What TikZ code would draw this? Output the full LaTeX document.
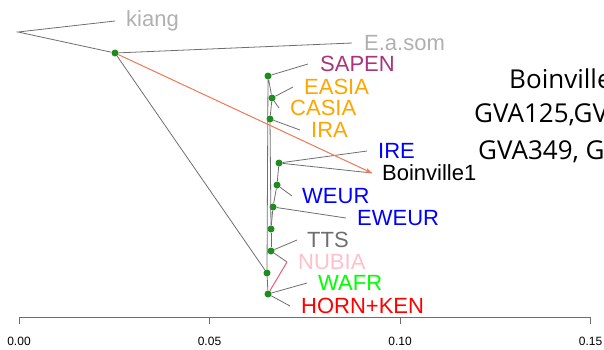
\documentclass[tikz,border=0pt]{standalone}
\usepackage{fontspec}
\setmainfont{Liberation Sans}
\newfontfamily\notefont{Open Sans}
\usepackage{tikz}
\usetikzlibrary{arrows.meta, positioning}
\definecolor{TREEedge}{HTML}{6E6E6E}
\definecolor{TREEdot}{HTML}{1E8C1E}
\definecolor{TREEmig}{HTML}{F07856}
\definecolor{TREEmigb}{HTML}{E06078}
\definecolor{POPgray}{HTML}{B0B0B0}
\definecolor{POPdark}{HTML}{6F6F6F}
\definecolor{POPpurple}{HTML}{A8347C}
\definecolor{POPorange}{HTML}{FFA500}
\definecolor{POPblue}{HTML}{0000FF}
\definecolor{POPpink}{HTML}{FFC0CB}
\definecolor{POPgreen}{HTML}{00FF00}
\definecolor{POPred}{HTML}{FF0000}
\tikzset{
  treeedge/.style={TREEedge, line width=0.8pt},
  migedge/.style={line width=1pt},
  popdot/.style={circle, fill=TREEdot, inner sep=0pt, minimum size=7pt},
  poplabel/.style={inner sep=0pt, font=\fontsize{22}{26}\selectfont},
  notetext/.style={anchor=west, inner sep=0pt, font=\notefont\fontsize{26}{30}\selectfont},
  axislabel/.style={inner sep=0pt, font=\fontsize{12}{14}\selectfont}
}

\begin{document}
\begin{tikzpicture}[x=1pt, y=-1pt]
  \useasboundingbox (0,0) rectangle (604,349);
  \clip (0,0) rectangle (604,349);

  % inner points of the tree
  \coordinate (root) at (18,32);
  \node[popdot] (A) at (115,53) {};
  \node[popdot] (N9) at (267,273) {};
  \node[popdot] (N1) at (268,76) {};
  \node[popdot] (N2) at (272,98) {};
  \node[popdot] (N3) at (270,119) {};
  \node[popdot] (N4) at (279,163) {};
  \node[popdot] (N5) at (277,185) {};
  \node[popdot] (N6) at (273,207) {};
  \node[popdot] (N7) at (271,229) {};
  \node[popdot] (N8) at (271,251) {};
  \node[popdot] (N10) at (268,294) {};

  % leaf tips
  \coordinate (kiang) at (115,21);
  \coordinate (esom) at (352,43);
  \coordinate (sapen) at (308,64);
  \coordinate (easia) at (293,87);
  \coordinate (casia) at (279,108);
  \coordinate (ira) at (300,130);
  \coordinate (ire) at (367,151);
  \coordinate (boin) at (372,173);
  \coordinate (weur) at (292,196);
  \coordinate (eweur) at (346,218);
  \coordinate (tts) at (297,240);
  \coordinate (nubia) at (287,262);
  \coordinate (wafr) at (307,283);
  \coordinate (horn) at (290,306);

  % branches
  \draw[treeedge] (kiang) -- (root) -- (A) -- (esom);
  \draw[treeedge] (A) -- (N9);
  \draw[treeedge] (N9) -- (N1) -- (N2) -- (N3) -- (N7);
  \draw[treeedge] (N7) -- (N6) -- (N5) -- (N4);
  \draw[treeedge] (N7) -- (N8);
  \draw[treeedge] (N9) -- (N10);
  \draw[treeedge] (N1) -- (sapen);
  \draw[treeedge] (N2) -- (easia);
  \draw[treeedge] (N2) -- (casia);
  \draw[treeedge] (N3) -- (ira);
  \draw[treeedge] (N4) -- (ire);
  \draw[treeedge] (N4) -- (boin);
  \draw[treeedge] (N5) -- (weur);
  \draw[treeedge] (N6) -- (eweur);
  \draw[treeedge] (N8) -- (tts);
  \draw[treeedge] (N8) -- (nubia);
  \draw[treeedge] (N10) -- (wafr);
  \draw[treeedge] (N10) -- (horn);

  % migration edges
  \draw[migedge, TREEmig, -{Stealth[length=7pt, width=5pt]}] (A) -- (boin);
  \draw[migedge, TREEmigb] (nubia) -- (N10);

  % population names
  \node[poplabel, POPgray, right=11pt of kiang] (kianglab) {kiang};
  \node[poplabel, POPgray, right=12pt of esom] (esomlab) {E.a.som};
  \node[poplabel, POPpurple, right=12pt of sapen] (sapenlab) {SAPEN};
  \node[poplabel, POPorange, right=11pt of easia] (easialab) {EASIA};
  \node[poplabel, POPorange, right=11pt of casia] (casialab) {CASIA};
  \node[poplabel, POPorange, right=11pt of ira] (iralab) {IRA};
  \node[poplabel, POPblue, right=11pt of ire] (irelab) {IRE};
  \node[poplabel, black, right=10pt of boin] (boinlab) {Boinville1};
  \node[poplabel, POPblue, right=10pt of weur] (weurlab) {WEUR};
  \node[poplabel, POPblue, right=11pt of eweur] (eweurlab) {EWEUR};
  \node[poplabel, POPdark, right=10pt of tts] (ttslab) {TTS};
  \node[poplabel, POPpink, right=11pt of nubia] (nubialab) {NUBIA};
  \node[poplabel, POPgreen, right=11pt of wafr] (wafrlab) {WAFR};
  \node[poplabel, POPred, right=11pt of horn] (hornlab) {HORN+KEN};

  % note on the right
  \node[notetext] (note1) at (509,79) {Boinville};
  \node[notetext] (note2) at (474,115) {GVA125,GV};
  \node[notetext] (note3) at (478,152) {GVA349, G};

  % drift scale
  \foreach \v [count=\i from 0] in {0.00,0.05,0.10,0.15} {
    \coordinate (tick\i) at (19+190.5*\i,317);
    \draw[TREEedge, line width=0.8pt] (tick\i) -- ++(0,7);
    \node[axislabel] (scale\i) at (19+190.5*\i,341) {\v};
  }
  \draw[TREEedge, line width=0.8pt] (tick0) -- (tick3);
\end{tikzpicture}
\end{document}
